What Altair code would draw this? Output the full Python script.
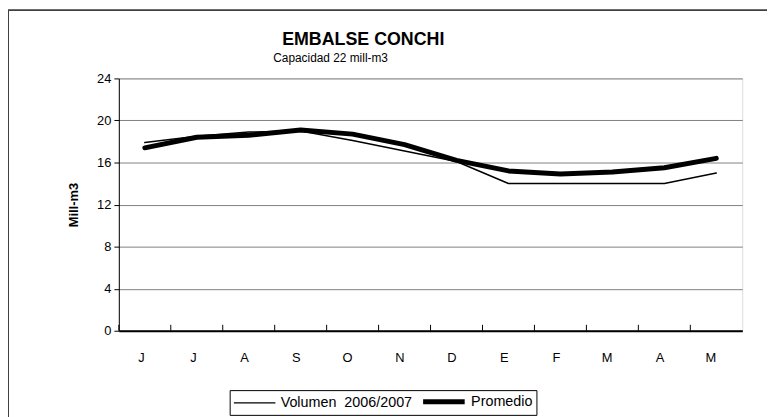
import altair as alt
import pandas as pd

meses = ["Junio", "Julio", "Agosto", "Septiembre", "Octubre", "Noviembre",
         "Diciembre", "Enero", "Febrero", "Marzo", "Abril", "Mayo"]
volumen = [17.9, 18.5, 18.9, 19.0, 18.1, 17.1, 16.1, 14.0, 14.0, 14.0, 14.0, 15.0]
promedio = [17.4, 18.4, 18.6, 19.1, 18.7, 17.7, 16.2, 15.2, 14.9, 15.1, 15.5, 16.4]
series = ["Volumen\u00a0 2006/2007", "Promedio"]
y_ticks = [0, 4, 8, 12, 16, 20, 24]
titulo = "EMBALSE CONCHI"
subtitulo = "Capacidad 22 mill-m3"

rows = []
for m, v in zip(meses, volumen):
    rows.append({"mes": m, "valor": v, "serie": series[0]})
for m, p in zip(meses, promedio):
    rows.append({"mes": m, "valor": p, "serie": series[1]})
df = pd.DataFrame(rows)
df_mes = pd.DataFrame({"mes": meses})
df_one = pd.DataFrame({"k": [0]})

FONT = "Liberation Sans"
W, H = 630, 255

x_enc = alt.X("mes:N", sort=meses,
              scale=alt.Scale(domain=meses, paddingInner=0, paddingOuter=0),
              axis=alt.Axis(title=None, labelExpr="substring(datum.label, 0, 1)",
                            labelAngle=0, ticks=False, labelPadding=27,
                            labelFontSize=13, labelFont=FONT, labelColor="black",
                            domainColor="black", domainWidth=2, grid=False))

leg = dict(title=None, orient="none", legendX=112, legendY=315,
           direction="horizontal", symbolType="M-1,0L6,0", symbolSize=144,
           labelFont=FONT, labelFontSize=14.5, labelColor="black",
           strokeColor="black", padding=3, columnPadding=0, labelOffset=34)

lines = alt.Chart(df).mark_line(strokeCap="round", strokeJoin="round").encode(
    x=x_enc,
    y=alt.Y("valor:Q",
            scale=alt.Scale(domain=[0, 24], nice=False, zero=True),
            axis=alt.Axis(title="Mill-m3", values=y_ticks, tickSize=5,
                          tickColor="black", domainColor="black",
                          labelFontSize=13, labelFont=FONT, labelColor="black",
                          labelPadding=3,
                          titleFont=FONT, titleFontSize=13, titleFontWeight="bold",
                          titleColor="black", titlePadding=16,
                          gridColor="#7f7f7f", gridWidth=1)),
    color=alt.Color("serie:N",
                    scale=alt.Scale(domain=series, range=["black", "black"]),
                    legend=alt.Legend(**leg)),
    strokeWidth=alt.StrokeWidth("serie:N",
                                scale=alt.Scale(domain=series, range=[1.5, 5]),
                                legend=alt.Legend(**leg)),
    detail="serie:N",
)

ticks_x = alt.Chart(df_mes).mark_rule(color="black", strokeWidth=1).encode(
    x=alt.X("mes:N", sort=meses, bandPosition=0),
    y=alt.value(H),
    y2=alt.value(H - 6),
)

border = alt.Chart(df_one).mark_rect(fill=None, stroke="#404040", strokeWidth=2).encode(
    x=alt.value(-112),
    x2=alt.value(W + 80),
    y=alt.value(-69),
    y2=alt.value(H + 120),
)

title_mark = alt.Chart(df_one).mark_text(
    text=titulo, font=FONT, fontSize=18,
    fontWeight="bold", color="black",
    align="center", baseline="middle").encode(x=alt.value(247), y=alt.value(-39))

subtitle_mark = alt.Chart(df_one).mark_text(
    text=subtitulo, font=FONT, fontSize=12, color="black",
    align="center", baseline="middle").encode(x=alt.value(214), y=alt.value(-21))

chart = alt.layer(border, ticks_x, lines, title_mark, subtitle_mark).properties(
    width=W, height=H,
    padding={"left": 112, "top": 69, "right": 25, "bottom": 85},
    autosize=alt.AutoSizeParams(type="none"),
).configure_view(stroke="black", strokeWidth=1).configure(background="white")

chart.save("out.html", embed_options={"renderer": "svg", "actions": False})
